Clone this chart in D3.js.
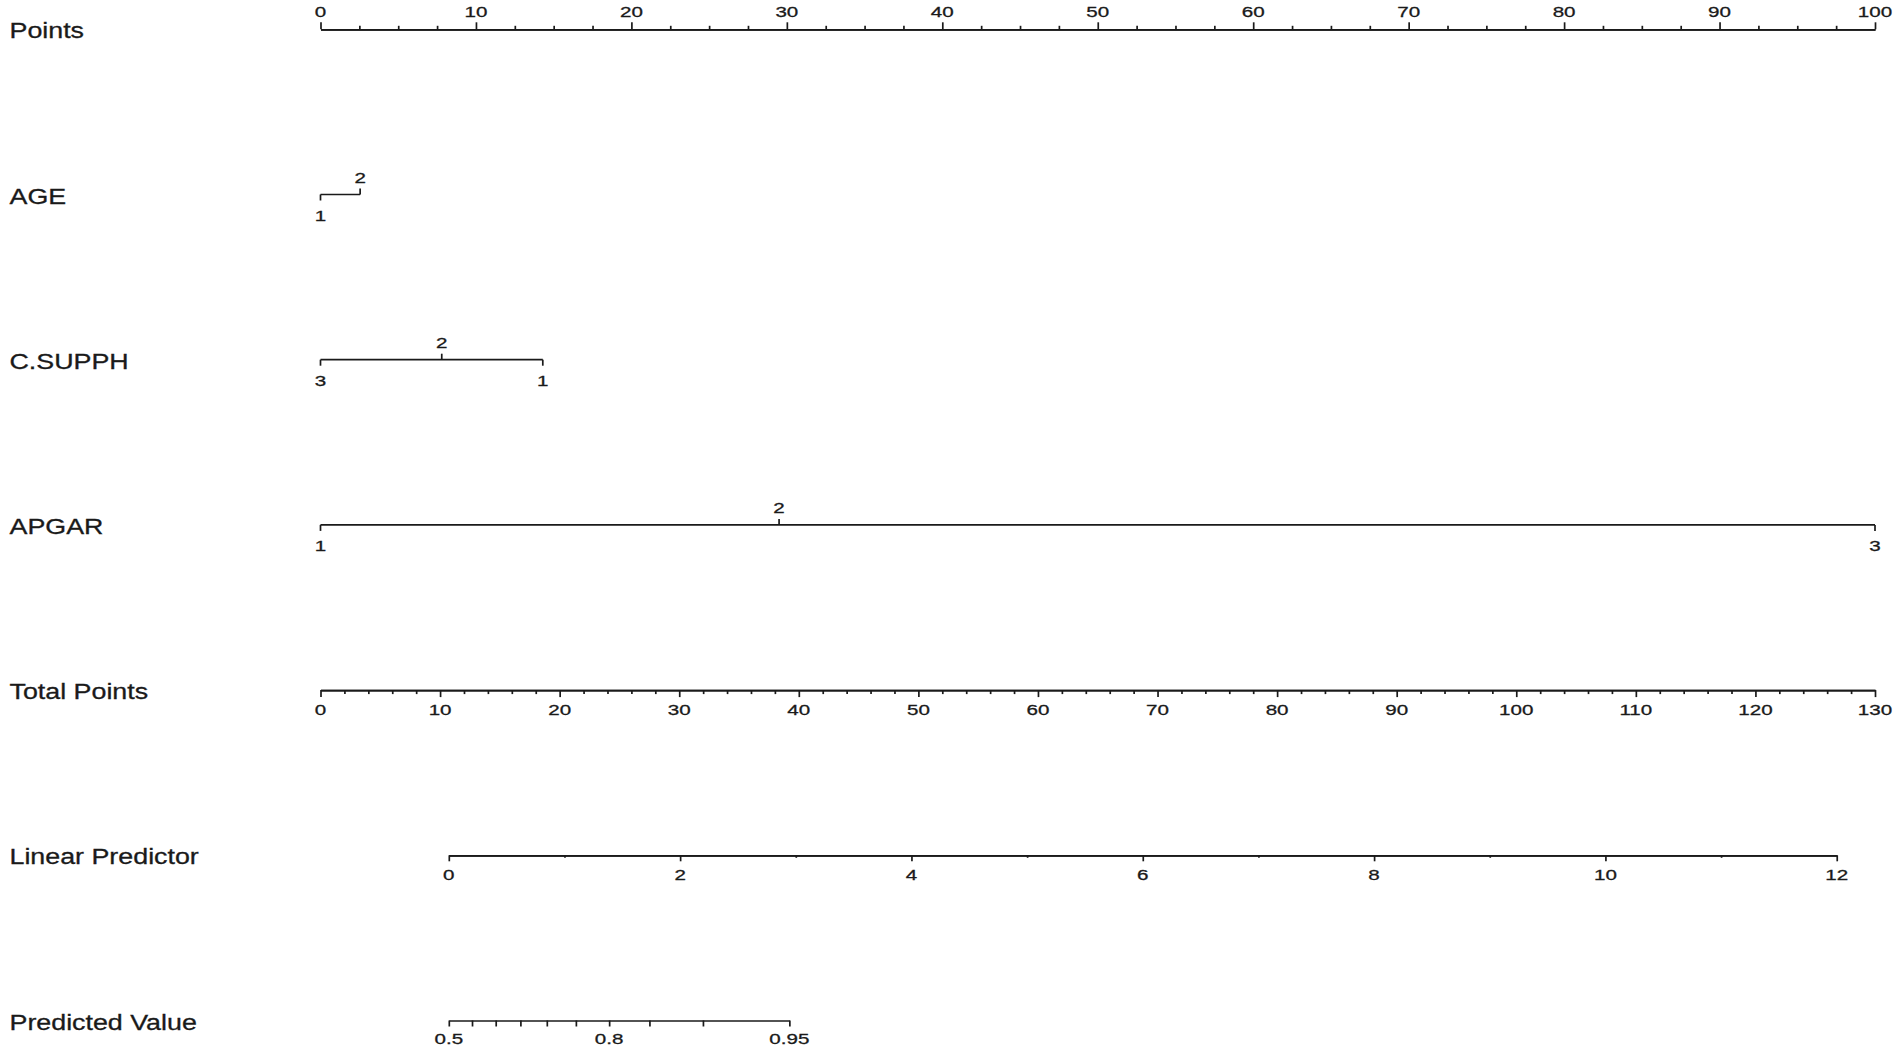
<!DOCTYPE html>
<html><head><meta charset="utf-8">
<script src="https://cdn.jsdelivr.net/npm/d3@7"></script>
<style>
html,body{margin:0;padding:0;background:#fff;}
svg{display:block;}
</style></head>
<body>
<svg id="chart" width="1902" height="1050"></svg>
<script>
// ---- data ----
const rowNames = ["Points","AGE","C.SUPPH","APGAR","Total Points","Linear Predictor","Predicted Value"];
const pointsMajor = [0,10,20,30,40,50,60,70,80,90,100];
const ageLevels = ["1","2"];
const agePoints = [0, 2.55];
const csupphLevels = ["3","2","1"];
const csupphPoints = [0, 7.8, 14.3];
const apgarLevels = ["1","2","3"];
const apgarPoints = [0, 29.5, 100];
const totalMajor = [0,10,20,30,40,50,60,70,80,90,100,110,120,130];
const lpMajor = [0,2,4,6,8,10,12];
const lpTotalAt = [10.73, 126.8]; // total points at LP 0 and LP 12
const probTicks = [0.5,0.55,0.6,0.65,0.7,0.75,0.8,0.85,0.9,0.95];
const probLabels = [0.5,0.8,0.95];

// ---- layout ----
const svg = d3.select("#chart");
const x0 = 320.5, x1 = 1875;
const rowY = i => 29.3 + i*165.2;
const ink = "#1a1a1a";
const labFont = "Liberation Sans, Arial, sans-serif";

function txt(x, y, s, size, sx, anchor){
  const g = svg.append("g").attr("transform", `translate(${x},${y}) scale(${sx},1)`);
  g.append("text").attr("text-anchor", anchor).attr("font-family", labFont)
   .attr("font-size", size).attr("fill", ink)
   .attr("stroke", ink).attr("stroke-width", 0.3).text(s);
}
function styleAxis(g){
  g.selectAll("path,line").attr("stroke", ink).attr("stroke-width", 1.7);
  g.selectAll("text").remove();
}

// row labels
rowNames.forEach((n,i)=> txt(9.5, rowY(i)+9, n, 22, 1.22, "start"));

// Points axis
const xPts = d3.scaleLinear().domain([0,100]).range([x0,x1]);
const minorPts = d3.range(0,100.01,2.5).filter(v=>v%10!==0);
let g = svg.append("g").attr("transform",`translate(0,${rowY(0)})`)
  .call(d3.axisTop(xPts).tickValues(pointsMajor).tickSize(7).tickSizeOuter(0).tickFormat(""));
styleAxis(g);
g = svg.append("g").attr("transform",`translate(0,${rowY(0)})`)
  .call(d3.axisTop(xPts).tickValues(minorPts).tickSize(3.5).tickSizeOuter(0).tickFormat(""));
styleAxis(g);
pointsMajor.forEach(v=> txt(xPts(v), rowY(0)-12, String(v), 15.5, 1.33, "middle"));

// variable rows
function varRow(i, levels, pts){
  const y = rowY(i);
  const lo = d3.min(pts), hi = d3.max(pts);
  svg.append("line").attr("x1", xPts(lo)).attr("x2", xPts(hi)).attr("y1", y).attr("y2", y)
    .attr("stroke", ink).attr("stroke-width", 1.7);
  levels.forEach((lv,k)=>{
    const up = k%2===1;
    const x = xPts(pts[k]);
    svg.append("line").attr("x1", x).attr("x2", x).attr("y1", y).attr("y2", up? y-6 : y+6)
      .attr("stroke", ink).attr("stroke-width", 1.7);
    txt(x, up? y-12 : y+26, lv, 15.5, 1.33, "middle");
  });
}
varRow(1, ageLevels, agePoints);
varRow(2, csupphLevels, csupphPoints);
varRow(3, apgarLevels, apgarPoints);

// Total points
const xTot = d3.scaleLinear().domain([0,130]).range([x0,x1]);
const minorTot = d3.range(0,130.01,2).filter(v=>v%10!==0);
g = svg.append("g").attr("transform",`translate(0,${rowY(4)})`)
  .call(d3.axisBottom(xTot).tickValues(totalMajor).tickSize(7).tickSizeOuter(0).tickFormat(""));
styleAxis(g);
g = svg.append("g").attr("transform",`translate(0,${rowY(4)})`)
  .call(d3.axisBottom(xTot).tickValues(minorTot).tickSize(4).tickSizeOuter(0).tickFormat(""));
styleAxis(g);
totalMajor.forEach(v=> txt(xTot(v), rowY(4)+25, String(v), 15.5, 1.33, "middle"));

// Linear predictor
const xLP = d3.scaleLinear().domain([0,12]).range([xTot(lpTotalAt[0]), xTot(lpTotalAt[1])]);
const lpMinor = [1,3,5,7,9,11];
g = svg.append("g").attr("transform",`translate(0,${rowY(5)})`)
  .call(d3.axisBottom(xLP).tickValues(lpMajor).tickSize(6).tickSizeOuter(0).tickFormat(""));
styleAxis(g);
g = svg.append("g").attr("transform",`translate(0,${rowY(5)})`)
  .call(d3.axisBottom(xLP).tickValues(lpMinor).tickSize(2.5).tickSizeOuter(0).tickFormat(""));
styleAxis(g);
lpMajor.forEach(v=> txt(xLP(v), rowY(5)+25, String(v), 15.5, 1.33, "middle"));

// Predicted value (logit scale on LP)
const logit = p => Math.log(p/(1-p));
const pvLo = logit(probTicks[0]), pvHi = logit(probTicks[probTicks.length-1]);
const xPV = d3.scaleLinear().domain([pvLo, pvHi]).range([xLP(pvLo), xLP(pvHi)]);
g = svg.append("g").attr("transform",`translate(0,${rowY(6)})`)
  .call(d3.axisBottom(xPV).tickValues(probTicks.map(logit)).tickSize(6).tickSizeOuter(0).tickFormat(""));
styleAxis(g);
probLabels.forEach(p=> txt(xPV(logit(p)), rowY(6)+23, String(p), 15.5, 1.33, "middle"));
</script>
</body></html>
